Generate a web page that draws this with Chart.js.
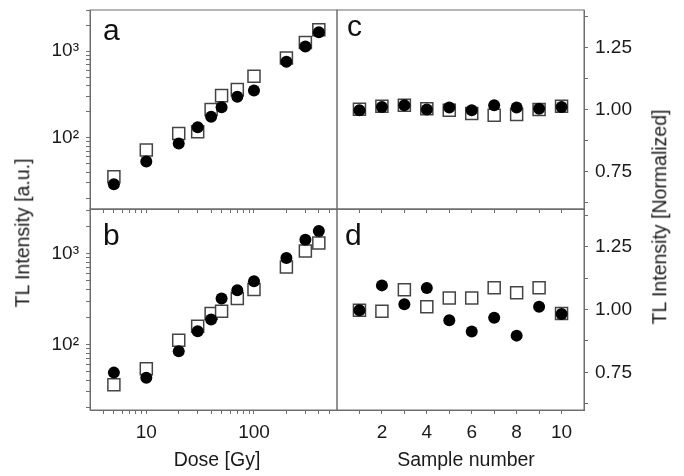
<!DOCTYPE html>
<html lang="en">
<head>
  <meta charset="UTF-8" />
  <title>TL dose response and reproducibility</title>
  <script src="https://cdn.jsdelivr.net/npm/chart.js"></script>
  <style>
    body {
      margin: 0;
      background: #fff;
      font-family: 'Liberation Sans', Arial, sans-serif;
      color: #1a1a1a;
    }
    #wrap {
      position: relative;
      width: 684px;
      height: 476px;
      overflow: hidden;
    }
    #wrap canvas {
      position: absolute;
      left: 0;
      top: 0;
    }
    .lbl {
      position: absolute;
      font-size: 19.5px;
      white-space: nowrap;
      line-height: 1;
      transform: translate(-50%, -50%);
    }
    .rot {
      transform: translate(-50%, -50%) rotate(-90deg);
    }
    .panel {
      position: absolute;
      font-size: 30px;
      line-height: 1;
      color: #111;
    }
  </style>
</head>
<body>
  <div id="wrap">
    <canvas id="chartA" width="684" height="476"></canvas>
    <canvas id="chartB" width="684" height="476"></canvas>
    <canvas id="chartC" width="684" height="476"></canvas>
    <canvas id="chartD" width="684" height="476"></canvas>

    <div class="lbl rot" style="left:23px; top:233px;">TL Intensity [a.u.]</div>
    <div class="lbl rot" style="left:660px; top:217px;">TL Intensity [Normalized]</div>
    <div class="lbl" style="left:217px; top:460px;">Dose [Gy]</div>
    <div class="lbl" style="left:466px; top:460px;">Sample number</div>

    <div class="panel" style="left:103px; top:15px;">a</div>
    <div class="panel" style="left:103px; top:220px;">b</div>
    <div class="panel" style="left:347px; top:11px;">c</div>
    <div class="panel" style="left:345px; top:220px;">d</div>
  </div>

  <script>
    // ---- data ----
    const doses = [5, 10, 20, 30, 40, 50, 70, 100, 200, 300, 400];
    const aFilled = [29, 53, 86, 132, 175, 225, 297, 351, 757, 1136, 1664];
    const aOpen = [35.5, 72, 112, 117, 212, 307, 360, 513, 835, 1263, 1770];
    const bFilled = [49, 43, 84, 140, 188, 320, 395, 497, 895, 1425, 1770];
    const bOpen = [36, 54, 111, 159, 219, 232, 320, 402, 713, 1068, 1307];

    const samples = [1, 2, 3, 4, 5, 6, 7, 8, 9, 10];
    const cFilled = [0.997, 1.010, 1.017, 1.000, 1.008, 0.997, 1.017, 1.008, 1.003, 1.010];
    const cOpen = [1.001, 1.013, 1.017, 1.003, 0.997, 0.984, 0.977, 0.980, 1.000, 1.013];
    const dFilled = [0.997, 1.096, 1.021, 1.086, 0.957, 0.912, 0.967, 0.896, 1.011, 0.982];
    const dOpen = [0.997, 0.993, 1.079, 1.011, 1.046, 1.046, 1.087, 1.067, 1.087, 0.984];

    // ---- ticks ----
    const doseTicks = [4, 5, 6, 7, 8, 9, 10, 20, 30, 40, 50, 60, 70, 80, 90, 100, 200, 300, 400, 500];
    const doseLabeled = [10, 100];
    const intensityTicks = [20, 30, 40, 50, 60, 70, 80, 90, 100, 200, 300, 400, 500, 600, 700, 800, 900, 1000, 2000, 3000];
    const intensityLabeled = [100, 1000];
    const intensityText = ['10\u00B2', '10\u00B3'];
    const sampleTicks = [1, 2, 3, 4, 5, 6, 7, 8, 9, 10];
    const sampleLabeled = [2, 4, 6, 8, 10];
    const normTicks = [0.625, 0.75, 0.875, 1.0, 1.125, 1.25, 1.375];
    const normLabeled = [0.75, 1.0, 1.25];

    const AXIS = '#6e6e6e';
    const FONT = { family: "'Liberation Sans', Arial, sans-serif", size: 19 };

    const framePlugin = {
      id: 'frame',
      beforeDatasetsDraw(chart) {
        const { ctx, chartArea: a } = chart;
        ctx.save();
        ctx.strokeStyle = AXIS;
        ctx.lineWidth = 1;
        ctx.strokeRect(a.left, a.top, a.right - a.left, a.bottom - a.top);
        ctx.restore();
      }
    };

    function pts(xs, ys) {
      return xs.map((x, i) => ({ x, y: ys[i] }));
    }

    function axis(type, position, min, max, ticks, labelFn, size, dim) {
      return {
        type,
        position,
        min,
        max,
        afterBuildTicks: s => { s.ticks = ticks.map(v => ({ value: v })); },
        afterFit: s => {
          s[dim] = size;
          s.paddingTop = s.paddingBottom = s.paddingLeft = s.paddingRight = 0;
        },
        grid: {
          drawOnChartArea: false,
          drawTicks: true,
          tickLength: 4,
          color: AXIS,
          tickColor: AXIS
        },
        border: { display: true, color: AXIS, width: 1 },
        ticks: {
          autoSkip: false,
          maxRotation: 0,
          minRotation: 0,
          padding: 7,
          color: '#1a1a1a',
          font: FONT,
          callback: labelFn
        }
      };
    }

    function sets(filled, open, xs) {
      return [
        {
          data: pts(xs, filled),
          pointStyle: 'circle',
          pointRadius: 6,
          backgroundColor: '#000',
          borderColor: '#000',
          borderWidth: 0,
          showLine: false
        },
        {
          data: pts(xs, open),
          pointStyle: 'rect',
          pointRadius: 8.5,
          backgroundColor: '#fff',
          borderColor: '#444',
          borderWidth: 1.5,
          showLine: false
        }
      ];
    }

    function makeChart(id, datasets, padding, scales) {
      return new Chart(document.getElementById(id), {
        type: 'scatter',
        data: { datasets },
        options: {
          responsive: false,
          animation: false,
          events: [],
          layout: { padding },
          plugins: { legend: { display: false }, tooltip: { enabled: false } },
          scales
        },
        plugins: [framePlugin]
      });
    }

    const noLabel = () => '';
    const doseLabel = v => doseLabeled.includes(v) ? String(v) : '';
    const intLabel = v => {
      const i = intensityLabeled.indexOf(v);
      return i >= 0 ? intensityText[i] : '';
    };
    const sampleLabel = v => sampleLabeled.includes(v) ? String(v) : '';
    const normLabel = v => normLabeled.includes(v) ? v.toFixed(2) : '';

    // panel a: area x 90..337, y 10..209
    makeChart('chartA', sets(aFilled, aOpen, doses),
      { left: 0, top: 10, right: 347, bottom: 257 },
      {
        x: axis('logarithmic', 'bottom', 3, 590, doseTicks, noLabel, 10, 'height'),
        y: axis('logarithmic', 'left', 15, 3000, intensityTicks, intLabel, 90, 'width')
      });

    // panel b: area x 90..337, y 209..410
    makeChart('chartB', sets(bFilled, bOpen, doses),
      { left: 0, top: 209, right: 347, bottom: 36 },
      {
        x: axis('logarithmic', 'bottom', 3, 590, doseTicks, doseLabel, 30, 'height'),
        y: axis('logarithmic', 'left', 19, 3100, intensityTicks, intLabel, 90, 'width')
      });

    // panel c: area x 337..584, y 10..209
    makeChart('chartC', sets(cFilled, cOpen, samples),
      { left: 337, top: 10, right: 0, bottom: 257 },
      {
        x: axis('linear', 'bottom', 0, 11, sampleTicks, noLabel, 10, 'height'),
        y: axis('linear', 'right', 0.6, 1.4, normTicks, normLabel, 100, 'width')
      });

    // panel d: area x 337..584, y 209..410
    makeChart('chartD', sets(dFilled, dOpen, samples),
      { left: 337, top: 209, right: 0, bottom: 36 },
      {
        x: axis('linear', 'bottom', 0, 11, sampleTicks, sampleLabel, 30, 'height'),
        y: axis('linear', 'right', 0.6, 1.4, normTicks, normLabel, 100, 'width')
      });
  </script>
</body>
</html>
